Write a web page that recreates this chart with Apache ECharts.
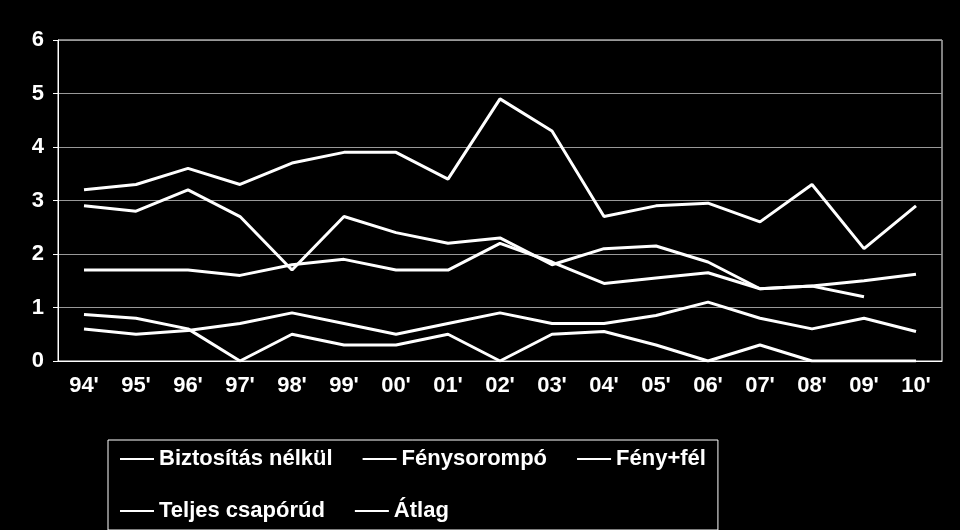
<!DOCTYPE html><html><head><meta charset="utf-8"><script src="https://cdn.jsdelivr.net/npm/echarts@6/dist/echarts.min.js"></script></head><body style="margin:0;background:#000"><div id="c" style="width:960px;height:530px"></div><script>
const categories=["94'","95'","96'","97'","98'","99'","00'","01'","02'","03'","04'","05'","06'","07'","08'","09'","10'"];
const names=["Biztosítás nélkül","Fénysorompó","Fény+fél","Teljes csapórúd","Átlag"];
const s1=[3.2,3.3,3.6,3.3,3.7,3.9,3.9,3.4,4.9,4.3,2.7,2.9,2.95,2.6,3.3,2.1,2.9];
const s2=[2.9,2.8,3.2,2.7,1.7,2.7,2.4,2.2,2.3,1.8,2.1,2.15,1.85,1.35,1.4,1.2,null];
const s3=[0.87,0.8,0.6,0,0.5,0.3,0.3,0.5,0,0.5,0.55,0.3,0,0.3,0,0,0];
const s4=[0.6,0.5,0.57,0.7,0.9,0.7,0.5,0.7,0.9,0.7,0.7,0.85,1.1,0.8,0.6,0.8,0.55];
const s5=[1.7,1.7,1.7,1.6,1.8,1.9,1.7,1.7,2.2,1.85,1.45,1.55,1.65,1.35,1.4,1.5,1.62];
const yTicks=[0,1,2,3,4,5,6];
const data=[s1,s2,s3,s4,s5];
const f={color:'#fff',fontWeight:'bold',fontSize:22,fontFamily:'Liberation Sans'};
echarts.init(document.getElementById('c')).setOption({
backgroundColor:'#000',animation:false,
grid:{left:58,right:18,top:40,bottom:169,show:true,borderColor:'#fff',borderWidth:1},
legend:{left:108,top:440,width:690,borderColor:'#fff',borderWidth:1,padding:[8,12,8,12],itemGap:30,itemWidth:34,itemHeight:2,icon:'rect',textStyle:f,data:names},
xAxis:{type:'category',data:categories,boundaryGap:true,axisLine:{lineStyle:{color:'#fff'}},axisTick:{show:false},axisLabel:Object.assign({margin:14},f)},
yAxis:{type:'value',min:0,max:6,interval:1,axisLine:{show:true,lineStyle:{color:'#fff'}},axisTick:{show:true,lineStyle:{color:'#fff'}},splitLine:{lineStyle:{color:'#999'}},axisLabel:Object.assign({margin:14,formatter:v=>yTicks.includes(v)?v:''},f)},
series:data.map((d,i)=>({name:names[i],type:'line',data:d,symbol:'none',lineStyle:{color:'#fff',width:3},itemStyle:{color:'#fff'}}))
});
</script></body></html>
